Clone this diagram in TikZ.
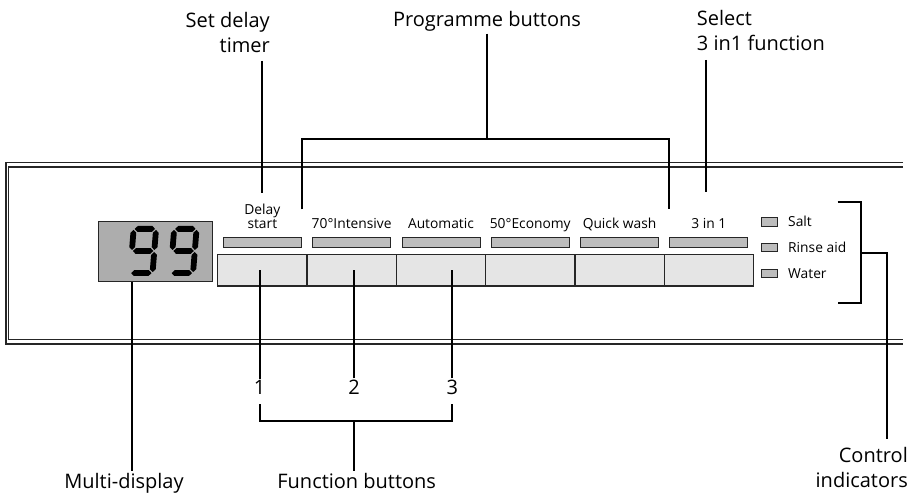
\documentclass[tikz,border=0pt]{standalone}
\usepackage{fontspec}
\setmainfont{Open Sans}
\usetikzlibrary{positioning}
\definecolor{btngray}{gray}{0.9}
\definecolor{lcdgray}{gray}{0.68}
\definecolor{ledgray}{gray}{0.74}
\definecolor{framegray}{gray}{0.15}
\tikzset{
  callout/.style={font=\fontsize{20}{25}\selectfont, inner sep=2pt},
  plabel/.style={font=\fontsize{13.8}{13.5}\selectfont, inner sep=1pt, anchor=base},
  btn/.style={draw=framegray, line width=1.2pt, fill=btngray, minimum width=89.3pt, minimum height=31.7pt, inner sep=0pt},
  led/.style={draw=framegray, line width=0.8pt, fill=ledgray, minimum width=78pt, minimum height=10.4pt, inner sep=0pt},
  lamp/.style={draw=framegray, line width=0.8pt, fill=ledgray, minimum width=15.6pt, minimum height=8.3pt, inner sep=0pt},
  lead/.style={line width=1.9pt},
}
\begin{document}
\begin{tikzpicture}[x=1pt,y=-1pt]
\useasboundingbox (0,0) rectangle (916,494);
\def\bw{89.3};
\def\bx{217.7};
\def\hseg#1#2#3{\fill (#1+1,#3) -- (#1+3.9,#3-2.9) -- (#2-3.9,#3-2.9) -- (#2-1,#3) -- (#2-3.9,#3+2.9) -- (#1+3.9,#3+2.9) -- cycle;}
\def\vseg#1#2#3{\fill (#1,#2+1) -- (#1+2.9,#2+3.9) -- (#1+2.9,#3-3.9) -- (#1,#3-1) -- (#1-2.9,#3-3.9) -- (#1-2.9,#2+3.9) -- cycle;}

% panel frame
\draw[framegray, line width=1.6pt] (903,162.5) -- (6,162.5) -- (6,344) -- (903,344);
\draw[framegray, line width=1.6pt] (903,167) -- (8.5,167) -- (8.5,339.5) -- (903,339.5);

% multi-display with two digits
\node[draw=framegray, line width=0.8pt, fill=lcdgray, minimum width=113.3pt, minimum height=60pt, inner sep=0pt] (disp) at (155.4,251.7) {};
\foreach \dx in {131,171.5}{
  \begin{scope}[shift={(\dx,226)}, xslant=0.08]
    \hseg{2.9}{25.3}{2.9} \hseg{2.9}{25.3}{25} \hseg{2.9}{25.3}{47.1}
    \vseg{2.9}{2.9}{25} \vseg{25.3}{2.9}{25} \vseg{25.3}{25}{47.1}
  \end{scope}
}

% buttons and their bars
\foreach \i in {1,...,6}{
  \node[btn] (b\i) at ({\bx+(\i-0.5)*\bw},270.2) {};
  \node[led] (l\i) at ({\bx+(\i-0.5)*\bw},242.5) {};
}
\node[plabel, anchor=south, align=center] (p1) at ({\bx+0.5*\bw},229.5) {Delay\\start};
\foreach \i/\txt in {2/70°Intensive, 3/Automatic, 4/50°Economy, 5/Quick wash, 6/3 in 1}{
  \node[plabel] (p\i) at ({\bx+(\i-0.5)*\bw},228.5) {\txt};
}

% control lamps
\foreach \i/\txt/\yy in {1/Salt/221.8, 2/Rinse aid/247.5, 3/Water/273.1}{
  \node[lamp] (k\i) at (769.5,\yy) {};
  \node[plabel, anchor=base west] (kt\i) at (787,\yy+5.2) {\txt};
}

% callouts above
\node[callout, align=right, anchor=south east] (tdelay) at (272,55.3) {Set delay\\timer};
\node[callout] (tprog) at (487,26.7) [anchor=base] {Programme buttons};
\node[callout, align=left, anchor=south west] (tsel) at (694.7,52.5) {Select\\3 in1 function};
\coordinate (sd) at (262,193.3);
\coordinate (s3) at (706,192.5);
\coordinate (pl) at (302,209.3);
\coordinate (pr) at (669.3,209.3);
\coordinate (pm) at (487,139);
\draw[lead] ([yshift=-5.5pt]tdelay.south east -| sd) -- (sd);
\draw[lead] ([yshift=-7.5pt]tsel.south west -| s3) -- (s3);
\draw[lead] (tprog.south) -- (pm);
\draw[lead] (pl) |- (pm) -| (pr);

% callouts below
\node[callout, anchor=base] (n1) at (259.7,395) {1};
\node[callout, anchor=base] (n2) at (354,395) {2};
\node[callout, anchor=base] (n3) at (452.3,395) {3};
\foreach \i in {1,2,3}{
  \draw[lead] (n\i.north) -- (n\i.north |- b\i.center);
}
\node[callout, anchor=base] (tfunc) at (356.7,488) {Function buttons};
\node[callout, anchor=base] (tmulti) at (124,488) {Multi-display};
\coordinate (fm) at (354,420.7);
\draw[lead] ([yshift=-7pt]n1.south) |- (fm) -| ([yshift=-7pt]n3.south);
\draw[lead] (fm) -- (fm |- tfunc.north);
\draw[lead] ([xshift=-23pt]disp.south) -- ([xshift=-23pt]disp.south |- tmulti.north);

% control indicators
\node[callout, align=right, anchor=south east] (tctrl) at (910,490) {Control\\indicators};
\coordinate (ct) at (837.7,202.3);
\coordinate (cb) at (837.7,303.3);
\coordinate (cc) at (861,253);
\coordinate (cbr) at (886.7,253);
\draw[lead] (ct) -| (cc) |- (cb);
\draw[lead] (cc) -- (cbr) -- ([yshift=6pt]tctrl.north -| cbr);
\end{tikzpicture}
\end{document}
